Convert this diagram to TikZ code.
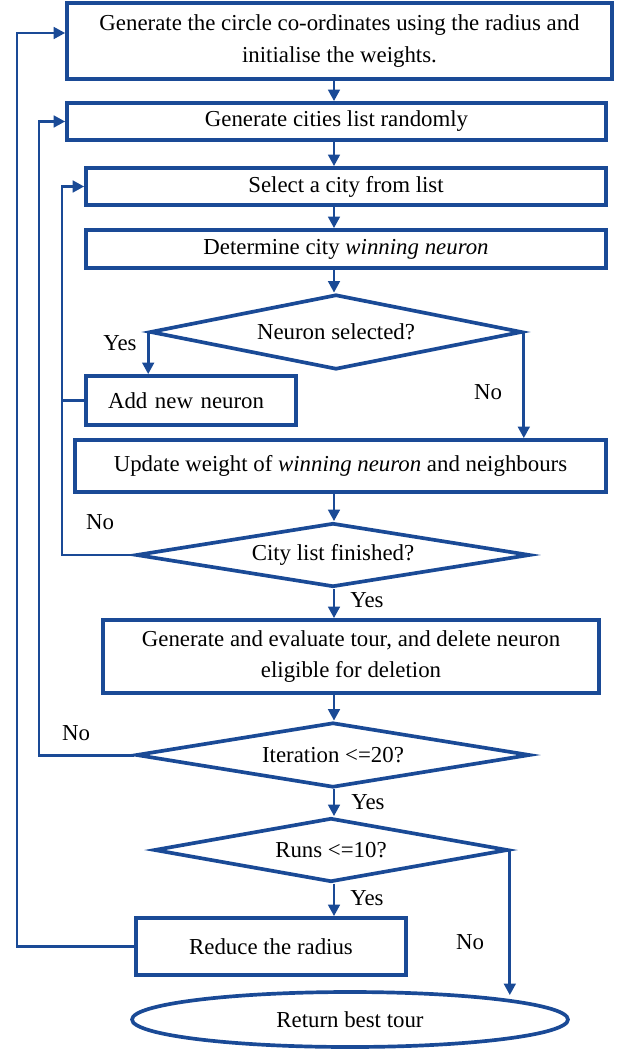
\documentclass[tikz,border=0pt]{standalone}
\usepackage{fontspec}
\setmainfont{Liberation Serif}
\usetikzlibrary{positioning, arrows.meta, shapes.geometric, calc}
\definecolor{flowblue}{RGB}{26,74,150}
\tikzset{
    stepbox/.style  = {draw=flowblue, line width=2.1pt, align=center, inner sep=3pt,
                       font=\fontsize{13}{18}\selectfont},
    decision/.style = {diamond, draw=flowblue, line width=2.1pt, aspect=5, inner sep=0pt,
                       font=\fontsize{13}{15}\selectfont},
    terminal/.style = {ellipse, draw=flowblue, line width=2.1pt, inner sep=0pt,
                       font=\fontsize{13}{15}\selectfont},
    link/.style     = {-{Triangle[length=2.3mm, width=2.3mm]}, draw=flowblue, line width=1.7pt},
    back/.style     = {draw=flowblue, line width=1.7pt},
    answer/.style   = {font=\fontsize{13}{15}\selectfont, inner sep=1pt}
}

\begin{document}
\begin{tikzpicture}[x=0.02cm, y=-0.02cm]
        \useasboundingbox (0,0) rectangle (620,1050);

        \node[stepbox, minimum width=10.9cm, minimum height=1.52cm] (init) at (339.5,41)
            {Generate the circle co-ordinates using the radius and\\initialise the weights.};
        \node[stepbox, minimum width=10.78cm, minimum height=0.74cm] (cities) at (336.5,121.5)
            {Generate cities list randomly};
        \node[stepbox, minimum width=10.4cm, minimum height=0.74cm] (select) at (346,186.5)
            {Select a city from list};
        \node[stepbox, minimum width=10.4cm, minimum height=0.76cm] (winner) at (346,249)
            {Determine city \textit{winning neuron}};
        \node[decision, minimum width=7.44cm, minimum height=1.5cm] (neuron) at (336,332)
            {Neuron selected?};
        \node[stepbox, minimum height=0.98cm, inner xsep=0.44cm, text width=3.32cm,
              align=left] (addn) at (191,400.5)
            {Add new neuron};
        \node[stepbox, minimum width=10.62cm, minimum height=1.04cm] (update) at (340.5,466)
            {Update weight of \textit{winning neuron} and neighbours};
        \node[decision, minimum width=7.88cm, minimum height=1.28cm] (citydone) at (333,555)
            {City list finished?};
        \node[stepbox, minimum width=9.92cm, minimum height=1.46cm] (tour) at (351,656.5)
            {Generate and evaluate tour, and delete neuron\\eligible for deletion};
        \node[decision, minimum width=7.88cm, minimum height=1.3cm] (iter) at (333,755)
            {Iteration <=20?};
        \node[decision, minimum width=7.08cm, minimum height=1.28cm] (runs) at (331,850)
            {Runs <=10?};
        \node[stepbox, minimum width=5.4cm, minimum height=1.14cm] (reduce) at (271,946.5)
            {Reduce the radius};
        \node[terminal, minimum width=8.72cm, minimum height=1.1cm] (ret) at (350,1019.5)
            {Return best tour};

        \coordinate (trunk) at (334,0);
        \coordinate (l1) at (17,0);
        \coordinate (l2) at (39,0);
        \coordinate (l3) at (62,0);

        % main column
        \draw[link] (init.south -| trunk) -- (cities.north -| trunk);
        \draw[link] (cities.south -| trunk) -- (select.north -| trunk);
        \draw[link] (select.south -| trunk) -- (winner.north -| trunk);
        \draw[link] (winner.south -| trunk) -- (neuron.north -| trunk);
        \draw[link] (update.south -| trunk) -- (citydone.north -| trunk);
        \draw[link] (citydone.south -| trunk) -- (tour.north -| trunk);
        \draw[link] (tour.south -| trunk) -- (iter.north -| trunk);
        \draw[link] (iter.south -| trunk) -- (runs.north -| trunk);
        \draw[link] (runs.south -| trunk) -- (reduce.north -| trunk);

        % branches
        \draw[link] (neuron.west) -- (neuron.west |- addn.north);
        \draw[link] (neuron.east) -- (neuron.east |- update.north);
        \draw[link] (runs.east) -- ($(runs.east |- ret.north)+(0,5)$);

        % loops back
        \draw[back] (addn.west) -- (addn.west -| l3);
        \draw[link] (citydone.west) -| (select.west -| l3) -- (select.west);
        \draw[link] (iter.west) -| (cities.west -| l2) -- (cities.west);
        \draw[link] (reduce.west) -| ([yshift=0.16cm]init.west -| l1) -- ([yshift=0.16cm]init.west);

        \node[answer] (yes1) at (120,343) {Yes};
        \node[answer] (no1) at (488,392) {No};
        \node[answer] (no2) at (100,522) {No};
        \node[answer] (yes2) at (367,600) {Yes};
        \node[answer] (no3) at (76,733) {No};
        \node[answer] (yes3) at (368,802) {Yes};
        \node[answer] (yes4) at (367,898) {Yes};
        \node[answer] (no4) at (470,942) {No};
\end{tikzpicture}
\end{document}
